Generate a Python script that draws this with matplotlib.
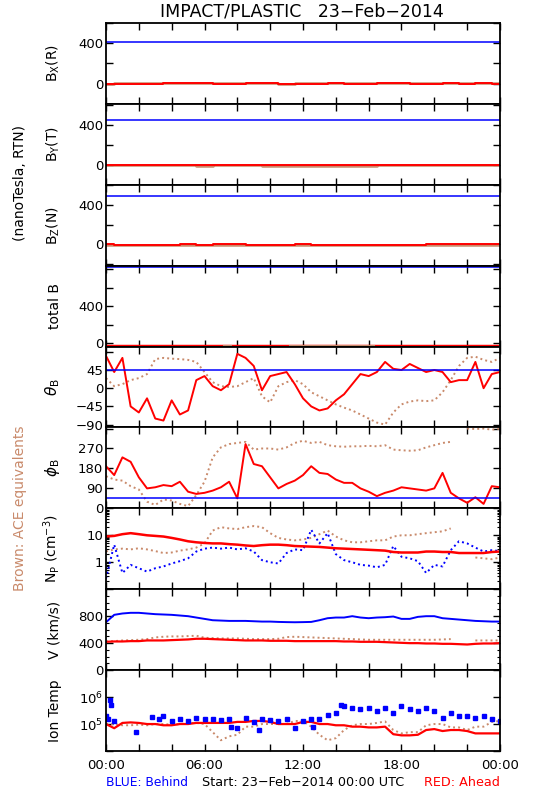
import numpy as np
import matplotlib
matplotlib.use("Agg")
import matplotlib.pyplot as plt
from matplotlib.ticker import NullFormatter

# colours
BLUE = "#0000ff"
RED = "#ff0000"
BROWN = "#c98a6b"

# half-hour sample times (hours from 00:00)
hours = np.arange(0, 24.5, 0.5)
hours_1h = np.arange(0, 25, 1)
nan = np.nan

# ---- magnetic field components (nT), hourly ----
bx_red = [-4, -2, 0, 1, 2, 3, 2, 1, 0, 2, 3, 1, 0, 1, 2, 0, -1, 2, 3, 0, 1, 2, 1, 2, 0]
bx_brown = [1, 2, 3, 3, 4, 3, 2, 3, 4, 3, 2, 1, 3, 4, 3, 3, 4, 3, 2, 2, 3, 4, 3, 3, 2]
by_red = [1, 0, 2, 1, 0, -1, 1, 2, 0, 1, 2, 0, -1, 0, 1, 2, 0, 1, 1, 0, 2, 1, 0, 1, 1]
by_brown = [-2, -3, -4, -2, -5, -3, -8, -6, -4, -5, -10, -12, -8, -10, -12, -9, -8, -6, -5, -4, -3, -4, -5, -4, -3]
bz_red = [3, -1, -2, -3, -2, 0, -1, 0, 1, -2, -1, -2, 0, -3, -4, -3, -2, -1, -2, -1, 0, 1, 0, 1, 0]
bz_brown = [-5, -4, -6, -5, -4, -3, -5, -6, -4, -3, -5, -6, -7, -8, -6, -7, -8, -6, -5, -4, -5, -4, -3, -4, -3]
bt_red = [-33] * 25
bt_brown_hours = [7.2, 7.6, nan, 11.2, 16.3]
bt_brown = [-27, -27, nan, -27, -27]

# Behind (blue) field values are flat lines
bx_blue = 410
by_blue = 447
bz_blue = 490
bt_blue = 825
theta_blue = 45
phi_blue = 45

# ---- field angles (deg), half-hourly ----
theta_red = [80, 40, 75, -45, -60, -25, -75, -80, -30, -65,
             -55, 20, 30, 5, -5, 10, 85, 75, 55, -5,
             30, 35, 40, 10, -25, -45, -55, -50, -30, -15,
             10, 35, 30, 40, 65, 48, 45, 60, 50, 40,
             45, 40, 15, 20, 20, 65, 0, 35, 40]
theta_brown = [25, 5, 10, 20, 25, 35, 72, 75, 73, 72,
               70, 65, 40, 15, 5, 3, 5, 15, 25, -20,
               -35, 5, 15, 20, 10, -10, -20, -30, -40, -48,
               -55, -65, -75, -85, -90, -60, -40, -33, -30, -32,
               -30, -10, 20, 55, 75, 78, 70, 65, 75]
phi_red = [190, 150, 230, 210, 140, 90, 95, 105, 100, 120,
           75, 65, 70, 80, 95, 120, 45, 290, 200, 190,
           140, 90, 110, 125, 150, 190, 160, 155, 130, 115,
           115, 90, 75, 55, 70, 80, 95, 90, 85, 80,
           90, 160, 70, 45, 25, 50, 20, 100, 95]
phi_brown = [145, 130, 125, 100, 85, 30, 15, 40, 35, 20,
             10, 60, 120, 230, 275, 290, 295, 300, 265, 270,
             270, 265, 275, 295, 305, 295, 300, 285, 280, 278,
             280, 280, 282, 280, 285, 265, 262, 260, 262, 275,
             285, 295, 300, nan, 360, 358, 360, 355, 360]

# ---- proton density (cm^-3) ----
np_red = [9.0, 9.5, 11, 12, 11, 10, 9.5, 9, 8, 7,
          6, 5.5, 5.2, 5, 5, 4.7, 4.5, 4.2, 4, 4.3,
          4.5, 4.5, 4.3, 4.0, 3.9, 3.8, 3.7, 3.5, 3.3, 3.2,
          3.1, 3.0, 2.9, 2.8, 2.7, 2.4, 2.3, 2.3, 2.3, 2.5,
          2.5, 2.4, 2.4, 2.2, 2.2, 2.2, 2.2, 2.4, 2.5]
np_brown = [2.5, 3.0, 3.2, 3.0, 3.3, 3.0, 2.6, 2.2, 2.3, 2.7,
            3.0, 3.5, 5, 15, 20, 18, 17, 20, 22, 20,
            12, 8, 7, 6.5, 7, 8, 11, 15, 9, 6.5,
            5.5, 5.5, 6, 6.5, 6.5, 9, 10, 10, 11, 12,
            13, 14, 18, nan, nan, 1.5, 1.4, 1.3, 1.5]
np_blue = [0.25, 4.5, 0.4, 0.8, 0.6, 0.45, 0.6, 0.7, 0.9, 1.1,
           1.4, 2.5, 3.2, 3.5, 3.2, 3.5, 3.0, 3.3, 2.5, 1.2,
           1.0, 0.9, 2.2, 3.0, 2.8, 16, 5, 12, 2.0, 1.2,
           1.0, 0.8, 0.75, 0.65, 0.8, 4, 1.6, 1.4, 1.1, 0.4,
           0.8, 0.7, 2.8, 6, 5, 3.5, 2.5, 2.8, 2.6]

# ---- bulk speed (km/s) ----
v_blue = [710, 820, 840, 850, 850, 840, 830, 825, 820, 810,
          800, 780, 760, 740, 735, 730, 730, 730, 725, 720,
          720, 715, 712, 710, 712, 715, 740, 770, 780, 780,
          800, 780, 770, 780, 785, 795, 760, 760, 790, 800,
          800, 770, 760, 750, 740, 730, 725, 720, 720]
v_red = [420, 425, 425, 430, 430, 440, 440, 440, 445, 450,
         455, 465, 465, 460, 455, 450, 445, 440, 440, 440,
         435, 435, 435, 430, 430, 430, 430, 430, 430, 425,
         425, 420, 420, 420, 415, 410, 405, 400, 400, 395,
         395, 390, 390, 385, 380, 390, 395, 395, 400]
v_brown = [425, 430, 440, 445, 450, 460, 485, 495, 500, 500,
           505, 510, 480, 475, 470, 470, 470, 465, 460, 460,
           460, 465, 490, 495, 490, 485, 480, 475, 470, 465,
           460, 455, 450, 450, 450, 450, 450, 450, 450, 450,
           450, 455, 460, nan, nan, 440, 440, 440, 440]

# ---- ion temperature (units of 1e5 K) ----
t_red = [1.0, 0.7, 1.1, 1.15, 1.1, 1.0, 1.0, 0.9, 0.9, 1.0,
         1.0, 1.1, 1.1, 1.1, 1.1, 1.1, 1.2, 1.2, 1.3, 1.3,
         1.2, 1.0, 1.0, 1.0, 1.2, 1.2, 1.0, 1.0, 0.9, 0.9,
         0.8, 0.8, 0.75, 0.75, 0.8, 0.42, 0.38, 0.38, 0.4, 0.6,
         0.65, 0.55, 0.6, 0.6, 0.55, 0.45, 0.45, 0.45, 0.45]
t_brown = [1.0, 1.0, 0.9, 0.9, 0.95, 0.9, 1.0, 1.0, 0.95, 1.0,
           1.1, 1.1, 1.0, 0.5, 0.25, 0.35, 0.4, 0.8, 0.8, 1.0,
           1.0, 1.0, 1.0, 1.3, 1.3, 0.8, 0.4, 0.25, 0.3, 0.6,
           0.9, 1.0, 1.0, 1.1, 1.25, 0.6, 0.45, 0.5, 0.5, 0.9,
           1.0, 1.0, 0.75, 0.75, 0.6, 0.8, 0.8, 1.2, 1.3]
tb_hours = [0.0, 0.1, 0.25, 0.3, 0.5, 1.8, 2.8, 3.2, 3.5, 4.0,
            4.5, 5.0, 5.5, 6.0, 6.5, 7.0, 7.5, 7.6, 8.0, 8.5,
            9.0, 9.3, 9.5, 10.0, 10.5, 11.0, 11.5, 12.0, 12.5, 12.6,
            13.0, 13.5, 14.0, 14.3, 14.5, 15.0, 15.5, 16.0, 16.5, 17.0,
            17.5, 18.0, 18.5, 19.0, 19.5, 20.0, 20.5, 21.0, 21.5, 22.0,
            22.5, 23.0, 23.5, 24.0]
t_blue = [2.0, 1.5, 8.0, 5.0, 1.3, 0.5, 1.8, 1.6, 2.0, 1.3,
          1.6, 1.3, 1.7, 1.5, 1.5, 1.4, 1.5, 0.8, 0.7, 1.7,
          1.2, 0.6, 1.5, 1.4, 1.3, 1.5, 0.7, 1.3, 1.5, 0.8,
          1.5, 2.2, 2.5, 5.0, 4.5, 4.0, 3.5, 4.0, 3.0, 4.0,
          2.5, 4.5, 3.5, 3.0, 4.0, 3.0, 1.7, 2.5, 2.0, 2.0,
          1.7, 2.0, 1.5, 1.3]

time_ticks = [0, 6, 12, 18, 24]
time_labels = ["00:00", "06:00", "12:00", "18:00", "00:00"]

# ---------------------------------------------------------------
W, H = 550, 800
plt.rcParams["font.family"] = "DejaVu Sans"
fig = plt.figure(figsize=(W / 100, H / 100), dpi=100)

left, right = 106, 500
top, bottom = 23, 751
n = 9
ph = (bottom - top) / n
# axes[0] is the top panel
axes = [fig.add_axes([left / W, 1 - (top + (i + 1) * ph) / H, (right - left) / W, ph / H])
        for i in range(n)]

DOT = (0, (1, 1.6))
LAB_X = -0.112
for ax in axes:
    ax.set_xlim(0, 24)
    ax.set_xticks(np.arange(0, 25, 2))
    ax.set_xticklabels([])
    ax.tick_params(axis="both", which="major", direction="in", top=True, right=True,
                   length=5, width=1, labelsize=9.5, pad=2)
    ax.tick_params(axis="both", which="minor", direction="in", top=True, right=True,
                   length=2.5, width=0.8)
    for s in ax.spines.values():
        s.set_linewidth(1.3)


def lin_ticks(ax, ticks, labelled):
    ax.set_yticks(ticks)
    ax.set_yticklabels([str(t) if t in labelled else "" for t in ticks])


# Bx, By, Bz
comp = [
    (axes[0], bx_red, bx_brown, bx_blue, (-185, 562), r"B$_{\rm X}$(R)"),
    (axes[1], by_red, by_brown, by_blue, (-200, 610), r"B$_{\rm Y}$(T)"),
    (axes[2], bz_red, bz_brown, bz_blue, (-213, 596), r"B$_{\rm Z}$(N)"),
]
for ax, r, b, bl, lim, lab in comp:
    ax.plot(hours_1h, b, color=BROWN, lw=1.8, drawstyle="steps-mid")
    ax.plot(hours_1h, r, color=RED, lw=1.4, drawstyle="steps-mid")
    ax.axhline(bl, color=BLUE, lw=1.1)
    ax.set_ylim(*lim)
    lin_ticks(ax, [-200, 0, 200, 400, 600], [0, 400])
    ax.set_ylabel(lab, fontsize=10)
    ax.yaxis.set_label_coords(LAB_X, 0.5)

# total B
ax = axes[3]
ax.plot(hours_1h, bt_red, color=RED, lw=2.5)
ax.plot(bt_brown_hours, bt_brown, color=BROWN, lw=1.5)
ax.axhline(bt_blue, color=BLUE, lw=1.1)
ax.set_ylim(-36, 837)
lin_ticks(ax, [0, 200, 400, 600, 800], [0, 400])
ax.set_ylabel("total B", fontsize=10)
ax.yaxis.set_label_coords(LAB_X, 0.5)

# theta
ax = axes[4]
ax.plot(hours, theta_brown, color=BROWN, lw=1.4, ls=DOT)
ax.plot(hours, theta_red, color=RED, lw=1.4)
ax.axhline(theta_blue, color=BLUE, lw=1.1)
ax.set_ylim(-97, 103)
ax.set_yticks([-90, -45, 0, 45, 90])
ax.set_yticklabels(["\u221290", "\u221245", "0", "45", ""])
ax.set_ylabel(r"$\theta_{\rm B}$", fontsize=11)
ax.yaxis.set_label_coords(LAB_X, 0.5)

# phi
ax = axes[5]
ax.plot(hours, phi_brown, color=BROWN, lw=1.4, ls=DOT)
ax.plot(hours, phi_red, color=RED, lw=1.4)
ax.axhline(phi_blue, color=BLUE, lw=1.1)
ax.set_ylim(0, 365)
ax.set_yticks([0, 90, 180, 270, 360])
ax.set_yticklabels(["0", "90", "180", "270", ""])
ax.set_ylabel(r"$\phi_{\rm B}$", fontsize=11)
ax.yaxis.set_label_coords(LAB_X, 0.5)

# density
ax = axes[6]
ax.set_yscale("log")
ax.plot(hours, np_brown, color=BROWN, lw=1.4, ls=DOT)
ax.plot(hours, np_blue, color=BLUE, lw=1.4, ls=DOT)
ax.plot(hours, np_red, color=RED, lw=1.8)
ax.set_ylim(0.1, 100)
ax.set_yticks([0.1, 1, 10, 100])
ax.set_yticklabels(["", "1", "10", ""])
ax.yaxis.set_minor_formatter(NullFormatter())
ax.set_ylabel(r"N$_{\rm P}$ (cm$^{-3}$)", fontsize=10)
ax.yaxis.set_label_coords(LAB_X, 0.5)

# speed
ax = axes[7]
ax.plot(hours, v_brown, color=BROWN, lw=1.4, ls=DOT)
ax.plot(hours, v_blue, color=BLUE, lw=1.4)
ax.plot(hours, v_red, color=RED, lw=1.6)
ax.set_ylim(0, 1200)
ax.set_yticks([0, 400, 800, 1200])
ax.set_yticklabels(["0", "400", "800", ""])
ax.set_yticks(np.arange(0, 1201, 100), minor=True)
ax.set_ylabel("V (km/s)", fontsize=10)
ax.yaxis.set_label_coords(LAB_X, 0.5)

# temperature
ax = axes[8]
ax.set_yscale("log")
ax.plot(hours, np.array(t_brown) * 1e5, color=BROWN, lw=1.4, ls=DOT)
ax.plot(hours, np.array(t_red) * 1e5, color=RED, lw=1.6)
ax.plot(tb_hours, np.array(t_blue) * 1e5, color=BLUE, ls="none", marker="s", ms=2.2)
ax.set_ylim(1e4, 1e7)
ax.set_yticks([1e4, 1e5, 1e6, 1e7])
ax.set_yticklabels(["", r"10$^5$", r"10$^6$", ""])
ax.yaxis.set_minor_locator(plt.NullLocator())
ax.set_ylabel("Ion Temp", fontsize=10)
ax.yaxis.set_label_coords(LAB_X, 0.5)
ax.set_xticks(np.arange(0, 25, 2))
ax.set_xticklabels([time_labels[time_ticks.index(h)] if h in time_ticks else ""
                    for h in range(0, 25, 2)])
ax.tick_params(axis="x", labelsize=9.5, pad=6)

# titles and side notes
fig.text(302 / W, 1 - 12 / H, "IMPACT/PLASTIC   23\u2212Feb\u22122014", ha="center", va="center", fontsize=12.5)
fig.text(20 / W, 1 - 183 / H, "(nanoTesla, RTN)", rotation=90, ha="center", va="center", fontsize=10)
fig.text(20 / W, 1 - 508 / H, "Brown: ACE equivalents", rotation=90, ha="center", va="center",
         fontsize=10, color=BROWN)
fig.text(106 / W, 1 - 783 / H, "BLUE: Behind", ha="left", va="center", fontsize=8.8, color=BLUE)
fig.text(303 / W, 1 - 783 / H, "Start: 23\u2212Feb\u22122014 00:00 UTC", ha="center", va="center", fontsize=9.2)
fig.text(500 / W, 1 - 783 / H, "RED: Ahead", ha="right", va="center", fontsize=9.2, color=RED)

fig.savefig("out.png", dpi=100, facecolor="white")
